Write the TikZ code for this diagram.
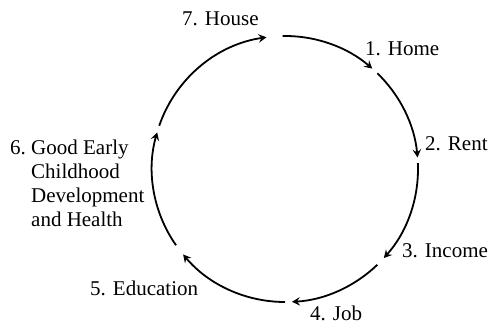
\documentclass[tikz,border=0pt]{standalone}
\usepackage{fontspec}
\setmainfont{Liberation Serif}
\usepackage{tikz}
\usetikzlibrary{calc,arrows.meta}
\tikzstyle{cyc}=[line width=1.8pt, -{Stealth[length=8pt,width=8.5pt,inset=3pt]}]
\tikzstyle{lbl}=[anchor=base west, inner sep=0pt, font=\fontsize{21}{24}\selectfont]
\begin{document}
\begin{tikzpicture}[x=1pt,y=1pt]
\useasboundingbox (0,0) rectangle (492,329);
\coordinate (c) at (285,160);
\foreach \n/\a in {1/91,2/46,3/2.5,4/-46,5/-90,6/-145,7/-199} {
	\coordinate (s\n) at ($(c)+(\a:133)$);
}
\draw[cyc] (s1) arc[start angle=91, end angle=49, radius=133];
\draw[cyc] (s2) arc[start angle=46, end angle=5, radius=133];
\draw[cyc] (s3) arc[start angle=2.5, end angle=-42, radius=133];
\draw[cyc] (s4) arc[start angle=-46, end angle=-87, radius=133];
\draw[cyc] (s5) arc[start angle=-90, end angle=-140, radius=133];
\draw[cyc] (s6) arc[start angle=-145, end angle=-196, radius=133];
\draw[cyc] (s7) arc[start angle=-199, end angle=-262, radius=133];
\node[lbl] (house) at (182,303) {7. House};
\node[lbl] (home) at (365,273) {1. Home};
\node[lbl] (rent) at (425,178) {2. Rent};
\node[lbl] (income) at (402,71) {3. Income};
\node[lbl] (job) at (310,9) {4. Job};
\node[lbl] (educ) at (90,34) {5. Education};
\node[lbl] (health) at (10,174) {\begin{tabular}[t]{@{}l@{\ }l@{}}
6. & Good Early\\
   & Childhood\\
   & Development\\
   & and Health
\end{tabular}};
\end{tikzpicture}
\end{document}
